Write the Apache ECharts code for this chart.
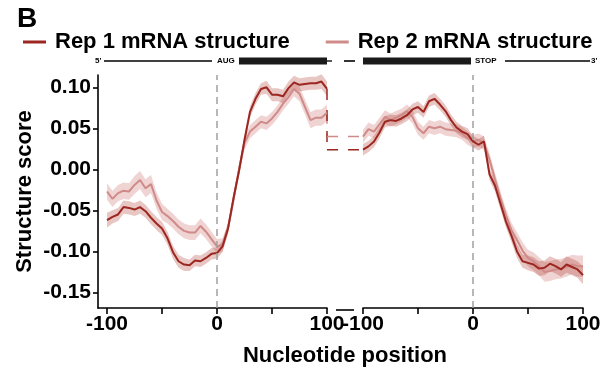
<!DOCTYPE html>
<html>
<head>
<meta charset="utf-8">
<script src="https://cdn.jsdelivr.net/npm/echarts@6/dist/echarts.min.js"></script>
<style>html,body{margin:0;padding:0;background:#fff}#c{width:610px;height:372px}</style>
</head>
<body>
<div id="c"></div>
<script>
// Nucleotide positions (relative to AUG in left panel, relative to STOP in right panel)
const positions = [-100,-95,-90,-85,-80,-75,-70,-65,-60,-55,-50,-45,-40,-35,-30,-25,-20,-15,-10,-5,0,5,10,15,20,25,30,35,40,45,50,55,60,65,70,75,80,85,90,95,100];

// Left panel (around start codon)
const startRep1 = [-0.062,-0.058,-0.055,-0.046,-0.047,-0.049,-0.046,-0.051,-0.059,-0.066,-0.072,-0.084,-0.101,-0.112,-0.116,-0.117,-0.111,-0.112,-0.108,-0.103,-0.102,-0.094,-0.072,-0.035,-0.002,0.036,0.070,0.086,0.098,0.100,0.091,0.091,0.089,0.099,0.106,0.103,0.104,0.105,0.105,0.107,0.098];
const startRep2 = [-0.027,-0.036,-0.029,-0.026,-0.027,-0.019,-0.013,-0.023,-0.018,-0.038,-0.052,-0.057,-0.063,-0.070,-0.075,-0.077,-0.077,-0.069,-0.076,-0.085,-0.094,-0.092,-0.072,-0.037,0.000,0.032,0.046,0.052,0.058,0.056,0.062,0.070,0.080,0.088,0.098,0.092,0.076,0.060,0.063,0.063,0.069];
const startRep1Err = [0.009,0.008,0.008,0.008,0.008,0.008,0.008,0.008,0.008,0.008,0.008,0.008,0.008,0.008,0.008,0.007,0.007,0.007,0.007,0.007,0.007,0.007,0.006,0.006,0.006,0.006,0.007,0.007,0.007,0.008,0.008,0.008,0.008,0.008,0.008,0.008,0.008,0.008,0.008,0.009,0.009];
const startRep2Err = [0.010,0.010,0.010,0.010,0.010,0.011,0.011,0.011,0.011,0.010,0.010,0.009,0.009,0.009,0.009,0.009,0.009,0.009,0.009,0.009,0.009,0.008,0.007,0.007,0.007,0.008,0.008,0.008,0.008,0.008,0.008,0.008,0.008,0.008,0.009,0.009,0.009,0.010,0.010,0.010,0.010];

// Right panel (around stop codon)
const stopRep1 = [0.024,0.028,0.034,0.045,0.058,0.060,0.059,0.062,0.066,0.073,0.076,0.070,0.083,0.086,0.079,0.071,0.060,0.051,0.046,0.043,0.034,0.030,0.034,-0.006,-0.020,-0.042,-0.064,-0.081,-0.100,-0.112,-0.114,-0.116,-0.121,-0.120,-0.115,-0.118,-0.122,-0.116,-0.119,-0.122,-0.129];
const stopRep2 = [0.040,0.049,0.046,0.055,0.064,0.060,0.063,0.066,0.071,0.064,0.050,0.044,0.052,0.050,0.052,0.049,0.048,0.047,0.044,0.038,0.034,0.036,0.032,0.012,-0.012,-0.035,-0.056,-0.074,-0.086,-0.099,-0.108,-0.112,-0.118,-0.125,-0.124,-0.122,-0.121,-0.119,-0.116,-0.118,-0.118];
const stopRep1Err = [0.007,0.007,0.007,0.007,0.007,0.007,0.007,0.007,0.007,0.007,0.007,0.007,0.007,0.007,0.007,0.007,0.007,0.007,0.007,0.007,0.007,0.007,0.007,0.007,0.007,0.007,0.007,0.008,0.008,0.008,0.009,0.009,0.009,0.009,0.009,0.009,0.009,0.010,0.010,0.010,0.011];
const stopRep2Err = [0.008,0.008,0.008,0.008,0.008,0.008,0.008,0.008,0.008,0.008,0.008,0.008,0.008,0.008,0.008,0.008,0.008,0.008,0.008,0.008,0.008,0.008,0.008,0.008,0.008,0.008,0.008,0.009,0.009,0.010,0.010,0.011,0.011,0.012,0.012,0.012,0.012,0.012,0.012,0.013,0.013];

const xTicks = [-100,-50,0,50,100];
const xLabels = [-100,0,100];
const yTicks = [-0.15,-0.10,-0.05,0.00,0.05,0.10];

const seriesNames = ['Rep 1 mRNA structure','Rep 2 mRNA structure'];
const darkColor = '#9c2720';
const lightColor = '#cf8b89';
const darkBand = 'rgba(170,50,40,0.28)';
const lightBand = 'rgba(210,130,125,0.34)';

// layout
const G1 = {left: 98, width: 229};
const G2 = {left: 363, width: 220};
const TOP = 75, HEIGHT = 233;
const X1MIN = -108.2, XMAX = 100, X2MIN = -100;
const YMIN = -0.169, YMAX = 0.115;

const pairs = (ys) => positions.map((p, i) => [p, ys[i]]);

function band(idx, ys, e, color) {
  return {
    type:'custom', xAxisIndex:idx, yAxisIndex:idx, silent:true, z:1,
    data: positions.map((p, i) => [p, ys[i] - e[i], ys[i] + e[i]]),
    encode:{x:0, y:[1,2]},
    renderItem: function(params, api) {
      if (params.dataIndex !== 0) return null;
      const up = [], lo = [];
      for (let i = 0; i < positions.length; i++) {
        up.push(api.coord([positions[i], ys[i] + e[i]]));
        lo.push(api.coord([positions[i], ys[i] - e[i]]));
      }
      return {type:'polygon', shape:{points: up.concat(lo.reverse())}, style:{fill:color}};
    }
  };
}
function line(idx, name, ys, color, extra) {
  return Object.assign({type:'line', name:name, xAxisIndex:idx, yAxisIndex:idx, data:pairs(ys), symbol:'none', lineStyle:{color:color, width:2}, itemStyle:{color:color}, z:3}, extra||{});
}
function zeroLine() {
  return {symbol:'none', silent:true, label:{show:false}, lineStyle:{color:'#a0a0a0', type:[7,5], width:1.5}, emphasis:{disabled:true}, data:[{xAxis:0}]};
}
function connector(idx, data, color) {
  return {type:'line', xAxisIndex:idx, yAxisIndex:idx, symbol:'none', silent:true, data:data, lineStyle:{color:color, width:1.5, type:[11,10]}, z:2};
}

const axisTextStyle = {color:'#000', fontSize:21, fontWeight:'bold', fontFamily:'Liberation Sans, Arial, sans-serif'};

function xAxis(idx, min) {
  return {type:'value', gridIndex:idx, min:min, max:XMAX, axisLine:{show:true, onZero:false, lineStyle:{color:'#000', width:1.6}},
    axisTick:{show:true, length:6, customValues:xTicks, lineStyle:{color:'#000', width:1.6}},
    axisLabel:Object.assign({customValues:xLabels, margin:6}, axisTextStyle), splitLine:{show:false}};
}

const option = {
  animation:false,
  backgroundColor:'#fff',
  title:{text:'B', left:12, top:0, textStyle:{fontSize:28, fontWeight:'bold', color:'#000', fontFamily:'Liberation Sans, Arial, sans-serif'}},
  legend:{data:seriesNames, left:18, top:26, icon:'rect', itemWidth:23, itemHeight:3, itemGap:36,
    textStyle:{fontSize:22, fontWeight:'bold', color:'#000', fontFamily:'Liberation Sans, Arial, sans-serif', padding:[0,0,0,4]}},
  grid:[
    {left:G1.left, width:G1.width, top:TOP, height:HEIGHT},
    {left:G2.left, width:G2.width, top:TOP, height:HEIGHT},
    // gap between the two panels (axis break)
    {left:G1.left + G1.width, width:G2.left - G1.left - G1.width, top:TOP, height:HEIGHT}
  ],
  xAxis:[xAxis(0, X1MIN), xAxis(1, X2MIN),
    {type:'value', gridIndex:2, min:0, max:1, show:false, splitLine:{show:false}}],
  yAxis:[
    {type:'value', gridIndex:0, min:YMIN, max:YMAX, axisLine:{show:true, onZero:false, lineStyle:{color:'#000', width:1.6}},
      axisTick:{show:true, length:5, customValues:yTicks, lineStyle:{color:'#000', width:1.6}},
      axisLabel:Object.assign({customValues:yTicks, margin:7, formatter:v=>v.toFixed(2)}, axisTextStyle),
      splitLine:{show:false},
      name:'Structure score', nameLocation:'middle', nameGap:62, nameRotate:90,
      nameTextStyle:{fontSize:22, fontWeight:'bold', color:'#000', fontFamily:'Liberation Sans, Arial, sans-serif'}},
    {type:'value', gridIndex:1, min:YMIN, max:YMAX, show:false, axisLine:{onZero:false}, splitLine:{show:false}},
    {type:'value', gridIndex:2, min:YMIN, max:YMAX, show:false, axisLine:{onZero:false}, splitLine:{show:false}}
  ],
  graphic:[
    // gene diagram
    {type:'text', left:95, top:57, style:{text:"5'", fontSize:8, fontWeight:'bold', fill:'#000'}},
    {type:'line', shape:{x1:104, y1:61, x2:212, y2:61}, style:{stroke:'#000', lineWidth:1.3}},
    {type:'text', left:217, top:57, style:{text:'AUG', fontSize:8, fontWeight:'bold', fill:'#000'}},
    {type:'rect', shape:{x:239, y:57.5, width:88, height:7}, style:{fill:'#1a1a1a'}},
    {type:'line', shape:{x1:327, y1:61, x2:332, y2:61}, style:{stroke:'#000', lineWidth:1.3}},
    {type:'line', shape:{x1:344, y1:61, x2:355, y2:61}, style:{stroke:'#000', lineWidth:1.6}},
    {type:'rect', shape:{x:363, y:57.5, width:108, height:7}, style:{fill:'#1a1a1a'}},
    {type:'text', left:475, top:57, style:{text:'STOP', fontSize:8, fontWeight:'bold', fill:'#000'}},
    {type:'line', shape:{x1:505, y1:61, x2:590, y2:61}, style:{stroke:'#000', lineWidth:1.3}},
    {type:'text', left:591, top:57, style:{text:"3'", fontSize:8, fontWeight:'bold', fill:'#000'}},
    // axis break mark
    {type:'line', shape:{x1:336, y1:310, x2:354, y2:310}, style:{stroke:'#000', lineWidth:1.6}},
    // x axis title
    {type:'text', x:345, y:345, style:{text:'Nucleotide position', fontSize:22, fontWeight:'bold', fill:'#000', align:'center', fontFamily:'Liberation Sans, Arial, sans-serif'}}
  ],
  series:[
    band(0, startRep2, startRep2Err, lightBand),
    band(0, startRep1, startRep1Err, darkBand),
    line(0, seriesNames[1], startRep2, lightColor),
    line(0, seriesNames[0], startRep1, darkColor, {markLine:zeroLine()}),
    // break connectors: vertical drop at end of left panel, horizontal across the gap
    connector(0, [[XMAX, startRep2[startRep2.length-1]], [XMAX, stopRep2[0]]], lightColor),
    connector(0, [[XMAX, startRep1[startRep1.length-1]], [XMAX, stopRep1[0]]], darkColor),
    connector(2, [[0, stopRep2[0]], [1, stopRep2[0]]], lightColor),
    connector(2, [[0, stopRep1[0]], [1, stopRep1[0]]], darkColor),
    band(1, stopRep2, stopRep2Err, lightBand),
    band(1, stopRep1, stopRep1Err, darkBand),
    line(1, seriesNames[1], stopRep2, lightColor),
    line(1, seriesNames[0], stopRep1, darkColor, {markLine:zeroLine()})
  ]
};
const chart = echarts.init(document.getElementById('c'), null, {renderer:'canvas'});
chart.setOption(option);
</script>
</body>
</html>
